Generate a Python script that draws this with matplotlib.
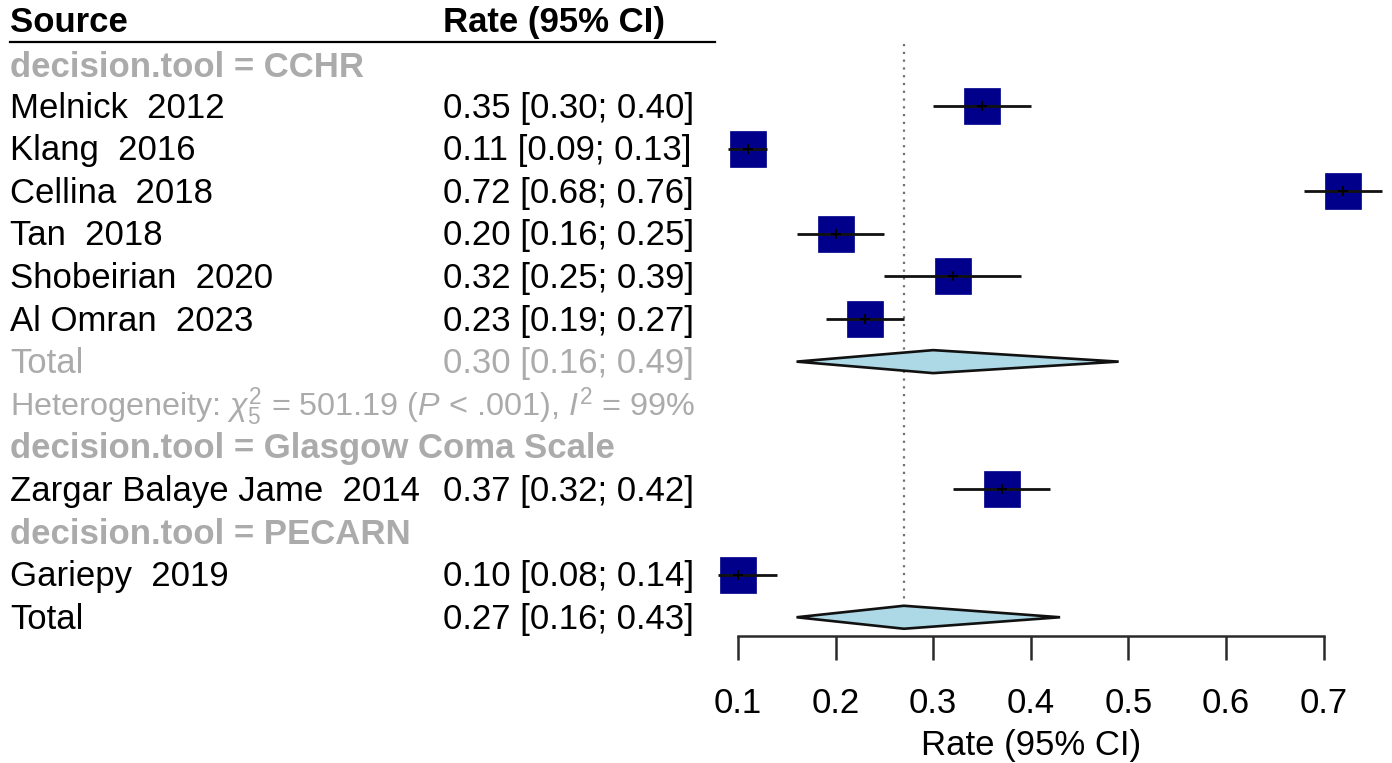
import matplotlib
matplotlib.use("Agg")
import matplotlib.pyplot as plt
from matplotlib.patches import Rectangle, Polygon
from matplotlib.transforms import blended_transform_factory

plt.rcParams['font.family'] = ['Liberation Sans', 'DejaVu Sans']
plt.rcParams['mathtext.fontset'] = 'custom'
plt.rcParams['mathtext.rm'] = 'Liberation Sans'
plt.rcParams['mathtext.it'] = 'Liberation Sans:italic'
plt.rcParams['mathtext.bf'] = 'Liberation Sans:bold'

# ---------------- data ----------------
cchr_studies = ["Melnick  2012", "Klang  2016", "Cellina  2018", "Tan  2018",
                "Shobeirian  2020", "Al Omran  2023"]
cchr_rate = [0.35, 0.11, 0.72, 0.20, 0.32, 0.23]
cchr_lo = [0.30, 0.09, 0.68, 0.16, 0.25, 0.19]
cchr_hi = [0.40, 0.13, 0.76, 0.25, 0.39, 0.27]
cchr_total = [0.30, 0.16, 0.49]   # est, lo, hi

gcs_studies = ["Zargar Balaye Jame  2014"]
gcs_rate = [0.37]
gcs_lo = [0.32]
gcs_hi = [0.42]

pecarn_studies = ["Gariepy  2019"]
pecarn_rate = [0.10]
pecarn_lo = [0.08]
pecarn_hi = [0.14]

overall_total = [0.27, 0.16, 0.43]
heterogeneity = r"Heterogeneity: $\chi^2_5$ = 501.19 ($P$ < .001), $I^2$ = 99%"
group_labels = ["decision.tool = CCHR", "decision.tool = Glasgow Coma Scale",
                "decision.tool = PECARN"]
x_ticks = [0.1, 0.2, 0.3, 0.4, 0.5, 0.6, 0.7]
x_label = "Rate (95% CI)"

# ---------------- style ----------------
W, H = 1392, 763
FS = 25
GRAY = '#ababab'
SQ = '#00008B'
DIA = '#ADD8E6'

def ci_text(e, l, h):
    return "{:.2f} [{:.2f}; {:.2f}]".format(e, l, h)

fig = plt.figure(figsize=(W / 100, H / 100), dpi=100)
ax = fig.add_axes([700 / W, (H - 636) / H, 692 / W, 636 / H])
ax.set_xlim(0.06107, 0.77008)
ax.set_ylim(14.44, -0.488)
for s in ['top', 'right', 'left']:
    ax.spines[s].set_visible(False)
ax.spines['bottom'].set_bounds(0.1, 0.7)
ax.spines['bottom'].set_linewidth(1.8)
ax.spines['bottom'].set_color('#2a2a2a')
ax.set_yticks([])
ax.set_xticks(x_ticks)
ax.set_xticklabels([f"{t:.1f}" for t in x_ticks])
ax.tick_params(axis='x', direction='out', length=17, width=1.8, color='#2a2a2a',
               pad=20, labelsize=FS)

trans = blended_transform_factory(fig.transFigure, ax.transData)
XL = 10 / W
XR = 443 / W
DY = 0.05  # small downward shift of text rows

# header
ax.text(XL, 0.05, "Source", transform=trans, fontsize=FS, fontweight='bold',
        ha='left', va='center')
ax.text(XR, 0.05, "Rate (95% CI)", transform=trans, fontsize=FS, fontweight='bold',
        ha='left', va='center')
ax.plot([XL, 715 / W], [0.5, 0.5], transform=trans, color='black', lw=1.6,
        clip_on=False)

sq_hw = 18 / 976.0
sq_hh = 18 / 42.6
dia_hh = 11.5 / 42.6

def study_row(r, name, e, l, h):
    ax.text(XL, r + DY, name, transform=trans, fontsize=FS, ha='left', va='center')
    ax.text(XR, r + DY, ci_text(e, l, h), transform=trans, fontsize=FS,
            ha='left', va='center')
    ax.add_patch(Rectangle((e - sq_hw, r - sq_hh), 2 * sq_hw, 2 * sq_hh,
                           facecolor=SQ, edgecolor=SQ, lw=0.5, zorder=3))
    ax.plot([l, h], [r, r], color='#111111', lw=2.0, zorder=4, solid_capstyle='butt')
    ax.plot([e], [r], marker='+', color='black', ms=7, mew=1.4, zorder=5)

def diamond(r, e, l, h):
    ax.add_patch(Polygon([(l, r), (e, r - dia_hh), (h, r), (e, r + dia_hh)],
                         closed=True, facecolor=DIA, edgecolor='#111111', lw=1.9,
                         zorder=3))

# CCHR group
row = 1
ax.text(XL, row + 0.1, group_labels[0], transform=trans, fontsize=FS,
        fontweight='bold', color=GRAY, ha='left', va='center')
row += 1
for n, e, l, h in zip(cchr_studies, cchr_rate, cchr_lo, cchr_hi):
    study_row(row, n, e, l, h)
    row += 1
ax.text(XL, row + DY, "Total", transform=trans, fontsize=FS, color=GRAY,
        ha='left', va='center')
ax.text(XR, row + DY, ci_text(*cchr_total), transform=trans, fontsize=FS, color=GRAY,
        ha='left', va='center')
diamond(row, *cchr_total)
row += 1
ax.text(XL, row + DY, heterogeneity, transform=trans, fontsize=FS * 0.932, color=GRAY,
        ha='left', va='center')
row += 1

# GCS group
ax.text(XL, row + DY, group_labels[1], transform=trans, fontsize=FS,
        fontweight='bold', color=GRAY, ha='left', va='center')
row += 1
for n, e, l, h in zip(gcs_studies, gcs_rate, gcs_lo, gcs_hi):
    study_row(row, n, e, l, h)
    row += 1

# PECARN group
ax.text(XL, row + DY, group_labels[2], transform=trans, fontsize=FS,
        fontweight='bold', color=GRAY, ha='left', va='center')
row += 1
for n, e, l, h in zip(pecarn_studies, pecarn_rate, pecarn_lo, pecarn_hi):
    study_row(row, n, e, l, h)
    row += 1

# overall
ax.text(XL, row + DY, "Total", transform=trans, fontsize=FS, ha='left', va='center')
ax.text(XR, row + DY, ci_text(*overall_total), transform=trans, fontsize=FS,
        ha='left', va='center')
diamond(row, *overall_total)

# reference line
ax.plot([overall_total[0], overall_total[0]], [0.55, row - dia_hh - 0.05],
        color='#707070', lw=1.6, ls=(0, (1, 2.5)), zorder=1)

# x label
ax.text(0.4, 1 - 745 / H, x_label,
        transform=blended_transform_factory(ax.transData, fig.transFigure),
        fontsize=FS, ha='center', va='center')

fig.savefig("out.png", dpi=100)
